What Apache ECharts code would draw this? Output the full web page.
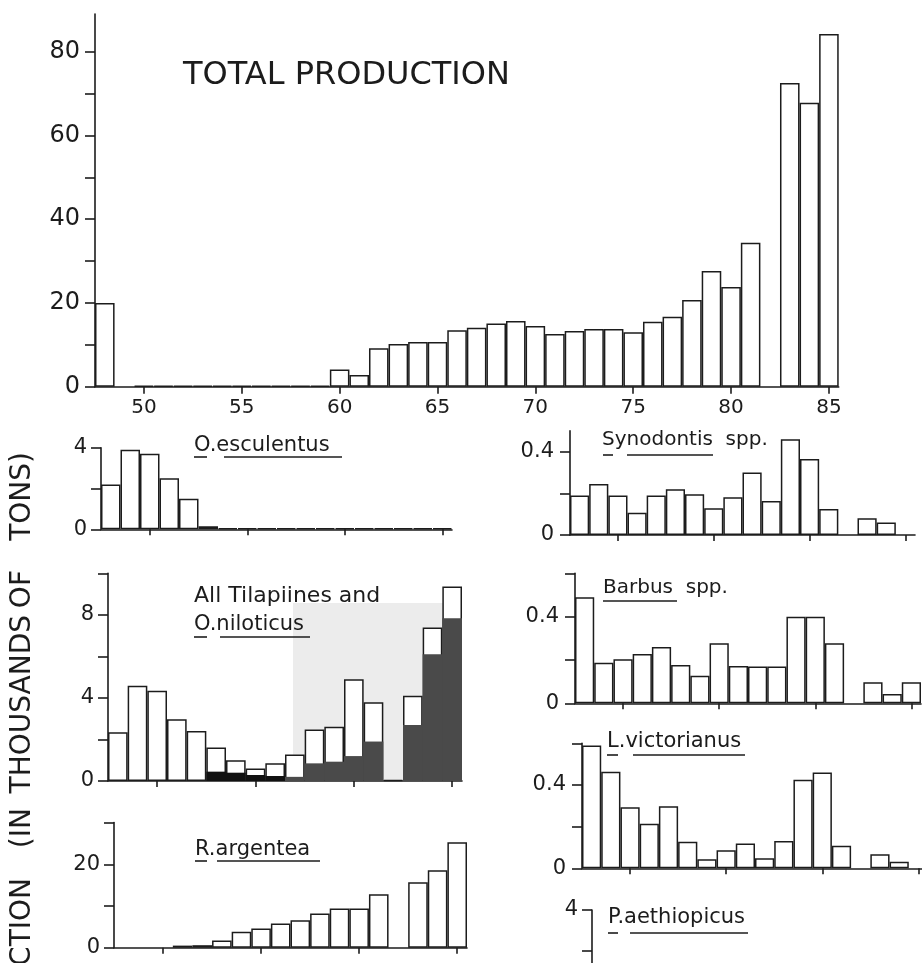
<!DOCTYPE html>
<html><head><meta charset="utf-8">
<script src="https://cdn.jsdelivr.net/npm/echarts@6/dist/echarts.min.js"></script>
<style>html,body{margin:0;padding:0;background:#fff}#c{width:922px;height:963px}</style>
</head><body><div id="c"></div>
<script>
// ---- data ----
const yearsTotal = ['48','49','50','51','52','53','54','55','56','57','58','59','60','61','62','63','64','65','66','67','68','69','70','71','72','73','74','75','76','77','78','79','80','81','82','83','84','85'];
const totalProduction = [20.0,'-',0.2,0.2,0.2,0.2,0.2,0.2,0.2,0.2,0.2,0.2,4.1,2.8,9.2,10.2,10.7,10.7,13.5,14.1,15.1,15.7,14.5,12.6,13.3,13.8,13.8,13.0,15.5,16.7,20.7,27.6,23.8,34.4,'-',72.5,67.8,84.2];
const yearsPanel = ['68','69','70','71','72','73','74','75','76','77','78','79','80','81','82','83','84','85'];
const oEsculentus = [2.2,3.9,3.7,2.5,1.5,0.15,0.05,0.05,0.05,0.05,0.05,0.05,0.05,0.05,0.05,0.05,0.05,0.05];
const allTilapiines = [2.35,4.58,4.35,2.97,2.41,1.61,1.0,0.6,0.85,1.27,2.48,2.61,4.9,3.79,0.05,4.1,7.39,9.37];
const oNiloticus = ['-','-','-','-','-',0.45,0.4,0.29,0.24,0.2,0.85,0.93,1.2,1.9,'-',2.7,6.1,7.84];
const rArgentea = ['-','-','-',0.5,0.6,1.7,3.8,4.6,5.8,6.6,8.2,9.4,9.4,12.8,'-',15.7,18.6,25.3];
const synodontis = [0.19,0.245,0.19,0.107,0.19,0.22,0.196,0.128,0.181,0.30,0.163,0.46,0.365,0.125,'-',0.08,0.06,'-'];
const barbus = [0.49,0.187,0.203,0.227,0.26,0.177,0.127,0.277,0.172,0.17,0.17,0.40,0.40,0.277,'-',0.097,0.043,0.097];
const lVictorianus = [0.59,0.463,0.293,0.214,0.298,0.127,0.044,0.087,0.119,0.048,0.131,0.425,0.46,0.108,'-',0.067,0.032,'-'];
const pAethiopicus = [];
const totalTicks = [0,10,20,30,40,50,60,70,80];
const totalLabels = [0,20,40,60,80];

// ---- styling helpers ----
const FONT = 'DejaVu Sans';
const INK = '#1c1c1c';
const LW = 1.6;

function grid(left, top, width, height) {
  return {left, top, width, height, containLabel:false, outerBoundsMode:'none'};
}
function yAx(gi, max, ticks, labels, fs, margin) {
  return {type:'value', gridIndex:gi, min:0, max, position:'left',
    axisLine:{show:true, onZero:false, lineStyle:{color:INK, width:LW}},
    axisTick:{show:true, customValues:ticks, length:10, lineStyle:{color:INK, width:LW}},
    axisLabel:{show:true, customValues:labels, fontSize:fs, fontFamily:FONT, color:INK, margin},
    splitLine:{show:false}};
}
function xAx(gi, cats, showLabels) {
  const sel = showLabels ? ((i, v) => (+v) % 5 === 0) : ((i) => i % 5 === 2);
  return {type:'category', gridIndex:gi, data:cats, boundaryGap:true, position:'bottom',
    axisLine:{show:true, onZero:false, lineStyle:{color:INK, width:LW}},
    axisTick:{show:true, alignWithLabel:true, interval:sel, length:showLabels ? 7 : 6, lineStyle:{color:INK, width:LW}},
    axisLabel:{show:showLabels, interval:sel, fontSize:20, fontFamily:FONT, color:INK, margin:11},
    splitLine:{show:false}};
}
function bars(gi, data, extra) {
  return Object.assign({type:'bar', xAxisIndex:gi, yAxisIndex:gi, data,
    barCategoryGap:'0%', silent:true, animation:false,
    itemStyle:{color:'#ffffff', borderColor:INK, borderWidth:1.5}}, extra || {});
}

const grids = [
  grid(95, 14, 743.7, 372.7),      // 0 total
  grid(101, 447.7, 351, 81.6),     // 1 O.esculentus
  grid(108, 573.3, 354, 207.7),    // 2 Tilapiines
  grid(114, 822.6, 353, 125.1),    // 3 R.argentea
  grid(570, 430.9, 345, 104.1),    // 4 Synodontis
  grid(575, 573.3, 346, 130),      // 5 Barbus
  grid(582, 743.3, 346, 125),      // 6 L.victorianus
  grid(592, 910, 346, 81.6)        // 7 P.aethiopicus
];
const xAxes = [
  xAx(0, yearsTotal, true),
  xAx(1, yearsPanel, false), xAx(2, yearsPanel, false), xAx(3, yearsPanel, false),
  xAx(4, yearsPanel, false), xAx(5, yearsPanel, false), xAx(6, yearsPanel, false), xAx(7, yearsPanel, false)
];
const yAxes = [
  yAx(0, 89, totalTicks, totalLabels, 24, 15),
  yAx(1, 4, [0,2,4], [0,4], 21, 14),
  yAx(2, 10, [0,2,4,6,8,10], [0,4,8], 21, 14),
  yAx(3, 30, [0,10,20,30], [0,20], 21, 14),
  yAx(4, 0.5, [0,0.2,0.4], [0,0.4], 21, 16),
  yAx(5, 0.6, [0,0.2,0.4,0.6], [0,0.4], 21, 16),
  yAx(6, 0.6, [0,0.2,0.4,0.6], [0,0.4], 21, 16),
  yAx(7, 4, [0,2,4], [0,4], 21, 14)
];

const nilData = oNiloticus.map((v, i) => ({value:v, itemStyle:{color: i >= 9 ? '#4a4a4a' : '#111111'}}));

const series = [
  bars(0, totalProduction),
  bars(1, oEsculentus),
  bars(2, allTilapiines),
  bars(2, nilData, {barGap:'-100%', itemStyle:{borderWidth:0}}),
  bars(3, rArgentea),
  bars(4, synodontis),
  bars(5, barbus),
  bars(6, lVictorianus),
  bars(7, pAethiopicus)
];

function txt(x, y, text, size, extra) {
  return Object.assign({type:'text', x, y, silent:true,
    style:{text, fill:INK, font: size + 'px "' + FONT + '"', textVerticalAlign:'middle', textAlign:'left'}}, extra || {});
}
function uline(x1, x2, y) {
  return {type:'line', silent:true, shape:{x1, y1:y, x2, y2:y}, style:{stroke:INK, lineWidth:1.6}};
}
function vword(text, yEnd) {
  return {type:'text', x:23, y:yEnd, rotation:Math.PI/2, silent:true,
    style:{text, fill:INK, font:'28px "' + FONT + '"', textAlign:'right', textVerticalAlign:'middle'}};
}

const graphics = [
  {type:'rect', z:-10, silent:true, shape:{x:293, y:603, width:169, height:177}, style:{fill:'#ececec'}},
  txt(183, 76, 'TOTAL PRODUCTION', 32),
  txt(194, 446, 'O.esculentus', 21), uline(194, 207, 457), uline(224, 342, 457),
  txt(194, 596, 'All Tilapiines and', 22),
  txt(194, 625, 'O.niloticus', 21), uline(194, 207, 637), uline(220, 310, 637),
  txt(195, 850, 'R.argentea', 21), uline(195, 207, 861), uline(217, 320, 861),
  txt(602, 440, 'Synodontis  spp.', 20), uline(603, 613, 455), uline(627, 713, 455),
  txt(603, 588, 'Barbus  spp.', 20), uline(603, 677, 601),
  txt(607, 742, 'L.victorianus', 21), uline(607, 618, 755), uline(633, 745, 755),
  txt(608, 918, 'P.aethiopicus', 21), uline(608, 618, 933), uline(630, 748, 933),
  vword('TONS)', 452), vword('OF', 570), vword('THOUSANDS', 615), vword('(IN', 808), vword('PRODUCTION', 878)
];

const chart = echarts.init(document.getElementById('c'), null, {renderer:'canvas'});
chart.setOption({
  animation:false,
  backgroundColor:'#ffffff',
  textStyle:{fontFamily:FONT},
  grid:grids, xAxis:xAxes, yAxis:yAxes, series,
  graphic:{elements:graphics}
});
</script>
</body></html>
